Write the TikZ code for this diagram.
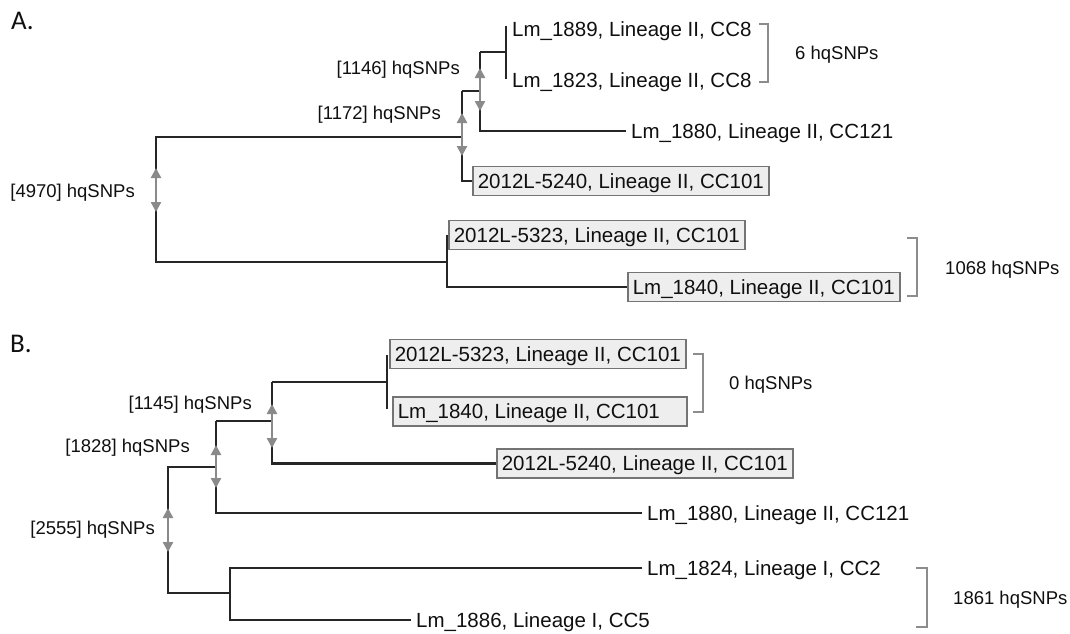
\documentclass[tikz,border=0pt]{standalone}
\usepackage{fontspec}
\setmainfont{Liberation Sans}
\newfontfamily\panelfont{Carlito}
\usetikzlibrary{arrows.meta}
\definecolor{treecol}{HTML}{262626}
\definecolor{arrcol}{HTML}{8A8A8A}
\definecolor{boxedge}{HTML}{747474}
\definecolor{boxfill}{HTML}{EEEEEE}
\definecolor{brkcol}{HTML}{8C8C8C}
\definecolor{txtcol}{HTML}{101010}
\newcommand{\leaffont}{\fontsize{20.5}{24}\selectfont}
\newcommand{\labfont}{\fontsize{18.5}{22}\selectfont}
\begin{document}
\begin{tikzpicture}[x=1pt,y=-1pt,
  tree/.style={draw=treecol,line width=2.2pt},
  snparrow/.style={draw=arrcol,line width=2.4pt,{Triangle[length=10pt,width=10pt]}-{Triangle[length=10pt,width=10pt]}},
  bracket/.style={draw=brkcol,line width=1.7pt},
  leaf/.style={anchor=west,inner xsep=5pt,inner ysep=0pt,font=\leaffont,text height=14.7pt,text depth=0pt,text=txtcol},
  boxleaf/.style={leaf,draw=boxedge,fill=boxfill,line width=1.6pt,minimum height=29pt},
  snplab/.style={anchor=east,inner sep=0pt,font=\labfont,text height=13.25pt,text depth=0pt,text=txtcol},
  brklab/.style={snplab,anchor=west},
  panel/.style={anchor=base west,inner sep=0pt,font=\panelfont\fontsize{27}{30}\selectfont,text=txtcol}]
\useasboundingbox (0,0) rectangle (1070,633);
\fill[white] (0,0) rectangle (1070,633);

% ---------- Panel A ----------
\node[panel] (pA) at (11,29) {A.};

\node[leaf,inner xsep=6pt] (lm1889) at (506,29) {Lm\_1889, Lineage II, CC8};
\node[leaf,inner xsep=6pt] (lm1823) at (506,80) {Lm\_1823, Lineage II, CC8};
\node[leaf] (lm1880A) at (626,131) {Lm\_1880, Lineage II, CC121};
\node[boxleaf] (bx5240A) at (472,181) {2012L-5240, Lineage II, CC101};
\node[boxleaf] (bx5323A) at (448,235) {2012L-5323, Lineage II, CC101};
\node[boxleaf] (bx1840A) at (627,287) {Lm\_1840, Lineage II, CC101};

\coordinate (a0t) at (156,137);
\coordinate (a0b) at (156,262);
\coordinate (a1t) at (462,91);
\coordinate (a1m) at (462,137);
\coordinate (a2t) at (480,52);
\coordinate (a2m) at (480,91);
\coordinate (a3t) at (506,26);
\coordinate (a3b) at (506,79);
\coordinate (a3m) at (506,52);
\coordinate (a4t) at (447,235);
\coordinate (a4m) at (447,262);

\draw[tree] (a1m) -- (a0t) -- (a0b) -- (a4m);
\draw[tree] (a1t) |- (bx5240A.west);
\draw[tree] (a1t) -- (a2m);
\draw[tree] (a2t) |- (lm1880A.west);
\draw[tree] (a2t) -- (a3m);
\draw[tree] (a3t) -- (a3b);
\draw[tree] (a4t) |- (bx1840A.west);

\coordinate (arA0t) at (156,168);
\coordinate (arA0b) at (156,212);
\coordinate (arA1t) at (462,113);
\coordinate (arA1b) at (462,156);
\coordinate (arA2t) at (480,68);
\coordinate (arA2b) at (480,111);
\draw[snparrow] (arA0t) -- (arA0b);
\draw[snparrow] (arA1t) -- (arA1b);
\draw[snparrow] (arA2t) -- (arA2b);

\node[snplab] (lA4970) at (135,191) {[4970] hqSNPs};
\node[snplab] (lA1172) at (441,113) {[1172] hqSNPs};
\node[snplab] (lA1146) at (460,68) {[1146] hqSNPs};

\coordinate (brA1t) at (759,24);
\coordinate (brA1b) at (759,82);
\draw[bracket] (brA1t) -- ++(9,0) |- (brA1b);
\node[brklab] (tA6) at (795,53) {6 hqSNPs};

\coordinate (brA2t) at (907,238);
\coordinate (brA2b) at (907,296);
\draw[bracket] (brA2t) -- ++(10,0) |- (brA2b);
\node[brklab] (tA1068) at (945,268) {1068 hqSNPs};

% ---------- Panel B ----------
\node[panel] (pB) at (10,352) {B.};

\node[boxleaf] (bx5323B) at (389,354) {2012L-5323, Lineage II, CC101};
\node[boxleaf] (bx1840B) at (392,411.5) {\makebox[284pt][l]{Lm\_1840, Lineage II, CC101}};
\node[boxleaf] (bx5240B) at (496,463.5) {2012L-5240, Lineage II, CC101};
\node[leaf] (lm1880B) at (642,513) {Lm\_1880, Lineage II, CC121};
\node[leaf] (lm1824) at (642,568) {Lm\_1824, Lineage I, CC2};
\node[leaf] (lm1886) at (411,620) {Lm\_1886, Lineage I, CC5};

\coordinate (b0t) at (168,467);
\coordinate (b0b) at (168,593);
\coordinate (b1t) at (216,421);
\coordinate (b1m) at (216,467);
\coordinate (b2t) at (272,382);
\coordinate (b2m) at (272,421);
\coordinate (b3t) at (387,355);
\coordinate (b3b) at (387,409);
\coordinate (b3m) at (387,382);
\coordinate (b4t) at (230,568);
\coordinate (b4m) at (230,593);

\draw[tree] (b1m) -- (b0t) -- (b0b) -- (b4m);
\draw[tree] (b1t) |- (lm1880B.west);
\draw[tree] (b1t) -- (b2m);
\draw[tree] (b2t) |- (bx5240B.west);
\draw[tree] (b2t) -- (b3m);
\draw[tree] (b3t) -- (b3b);
\draw[tree] (lm1824.west) -- (b4t) |- (lm1886.west);

\coordinate (arB0t) at (168,508);
\coordinate (arB0b) at (168,552);
\coordinate (arB1t) at (216,445);
\coordinate (arB1b) at (216,488);
\coordinate (arB2t) at (272,404);
\coordinate (arB2b) at (272,448);
\draw[snparrow] (arB0t) -- (arB0b);
\draw[snparrow] (arB1t) -- (arB1b);
\draw[snparrow] (arB2t) -- (arB2b);

\node[snplab] (lB2555) at (155,528) {[2555] hqSNPs};
\node[snplab] (lB1828) at (190,446) {[1828] hqSNPs};
\node[snplab] (lB1145) at (252,403) {[1145] hqSNPs};

\coordinate (brB1t) at (693,354);
\coordinate (brB1b) at (693,412);
\draw[bracket] (brB1t) -- ++(10,0) |- (brB1b);
\node[brklab] (tB0) at (729,383) {0 hqSNPs};

\coordinate (brB2t) at (916,568);
\coordinate (brB2b) at (916,627);
\draw[bracket] (brB2t) -- ++(11,0) |- (brB2b);
\node[brklab] (tB1861) at (953,598) {1861 hqSNPs};
\end{tikzpicture}
\end{document}
